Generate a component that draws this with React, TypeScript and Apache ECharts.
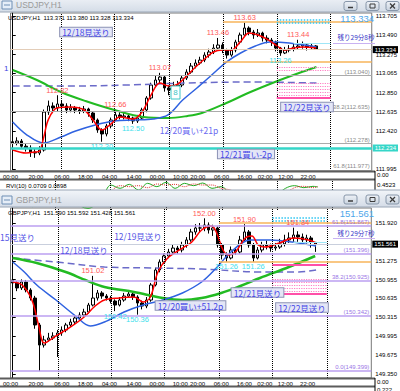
import React, { useEffect, useRef } from "react";
import * as echarts from "echarts";

const UI_FONT = "Liberation Sans, DejaVu Sans, sans-serif";
const JP_FONT = "Noto Sans CJK JP, Noto Sans, sans-serif";

const barSlots = Array.from({ length: 81 }, (_, i) => `H${i}`);

// USDJPY H1 bars: [open, close, low, high]
const usdjpyBars = [
  [112.300,112.286,112.250,112.340],[112.286,112.308,112.260,112.350],[112.308,112.250,112.220,112.330],
  [112.250,112.230,112.190,112.280],[112.230,112.185,112.130,112.260],[112.185,112.174,112.120,112.220],
  [112.174,112.208,112.150,112.250],[112.208,112.632,112.190,112.660],[112.632,112.700,112.600,112.760],
  [112.700,112.677,112.620,112.740],[112.677,112.722,112.640,112.820],[112.722,112.700,112.660,112.760],
  [112.700,112.655,112.620,112.730],[112.655,112.677,112.630,112.720],[112.677,112.655,112.620,112.700],
  [112.655,112.644,112.610,112.690],[112.644,112.666,112.620,112.700],[112.666,112.621,112.580,112.680],
  [112.621,112.543,112.510,112.640],[112.543,112.431,112.400,112.560],[112.431,112.387,112.300,112.450],
  [112.387,112.476,112.360,112.500],[112.476,112.543,112.450,112.570],[112.543,112.599,112.530,112.660],
  [112.599,112.577,112.550,112.630],[112.577,112.588,112.550,112.620],[112.588,112.565,112.530,112.610],
  [112.565,112.532,112.500,112.580],[112.532,112.565,112.510,112.600],[112.565,112.655,112.550,112.680],
  [112.655,112.789,112.630,112.810],[112.789,112.934,112.770,112.960],[112.934,112.990,112.910,113.040],
  [112.990,113.023,112.950,113.070],[113.023,112.901,112.860,113.040],[112.901,112.878,112.820,112.930],
  [112.878,112.923,112.850,112.970],[112.923,112.934,112.890,112.980],[112.934,113.012,112.910,113.040],
  [113.012,113.079,112.990,113.110],[113.079,113.146,113.060,113.180],[113.146,113.180,113.120,113.220],
  [113.180,113.213,113.160,113.250],[113.213,113.269,113.190,113.300],[113.269,113.303,113.240,113.340],
  [113.303,113.347,113.280,113.390],[113.347,113.381,113.320,113.460],[113.381,113.325,113.290,113.410],
  [113.325,113.269,113.230,113.340],[113.269,113.325,113.250,113.360],[113.325,113.414,113.300,113.440],
  [113.414,113.493,113.390,113.520],[113.493,113.571,113.470,113.630],[113.571,113.526,113.490,113.590],
  [113.526,113.493,113.450,113.550],[113.493,113.515,113.470,113.560],[113.515,113.459,113.420,113.530],
  [113.459,113.437,113.400,113.490],[113.437,113.414,113.370,113.460],[113.414,113.347,113.310,113.430],
  [113.347,113.292,113.260,113.360],[113.292,113.325,113.280,113.360],[113.325,113.336,113.300,113.380],
  [113.336,113.359,113.310,113.400],[113.359,113.370,113.330,113.440],[113.370,113.381,113.340,113.420],
  [113.381,113.359,113.320,113.400],[113.359,113.371,113.330,113.400],[113.371,113.334,113.328,113.380],
];

// GBPJPY H1 bars: [open, close, low, high]
const gbpjpyBars = [
  [150.950,150.899,150.850,151.000],[150.899,150.814,150.760,150.930],[150.814,150.916,150.780,150.960],
  [150.916,150.780,150.740,150.950],[150.780,150.643,150.600,150.810],[150.643,150.184,150.120,150.680],
  [150.184,149.843,149.399,150.220],[149.843,149.929,149.800,150.000],[149.929,149.963,149.900,150.050],
  [149.963,149.997,149.930,150.060],[149.997,150.048,149.640,150.100],[150.048,150.099,150.000,150.160],
  [150.099,150.184,150.060,150.220],[150.184,150.235,150.150,150.290],[150.235,150.303,150.200,150.350],
  [150.303,150.354,150.270,150.400],[150.354,150.405,150.320,150.460],[150.405,150.524,150.380,150.560],
  [150.524,150.643,150.500,151.020],[150.643,150.729,150.600,150.780],[150.729,150.677,150.630,150.760],
  [150.677,150.643,150.600,150.710],[150.643,150.592,150.550,150.680],[150.592,150.524,150.420,150.620],
  [150.524,150.609,150.500,150.660],[150.609,150.677,150.580,150.730],[150.677,150.711,150.650,150.780],
  [150.711,150.660,150.610,150.740],[150.660,150.558,150.360,150.690],[150.558,150.507,150.450,150.600],
  [150.507,150.609,150.470,150.660],[150.609,150.865,150.580,150.900],[150.865,151.120,150.840,151.160],
  [151.120,151.256,151.080,151.300],[151.256,151.358,151.220,151.400],[151.358,151.426,151.320,151.480],
  [151.426,151.494,151.380,151.550],[151.494,151.460,151.400,151.530],[151.460,151.546,151.420,151.600],
  [151.546,151.631,151.500,151.680],[151.631,151.767,151.600,151.820],[151.767,151.835,151.720,151.900],
  [151.835,151.835,151.760,151.920],[151.835,151.886,151.780,152.000],[151.886,151.801,151.740,151.930],
  [151.801,151.835,151.700,151.890],[151.835,151.546,151.500,151.860],[151.546,151.375,151.300,151.580],
  [151.375,151.324,151.260,151.420],[151.324,151.460,151.300,151.520],[151.460,151.426,151.380,151.500],
  [151.426,151.631,151.400,151.700],[151.631,151.767,151.600,151.900],[151.767,151.546,151.500,151.800],
  [151.546,151.324,151.260,151.580],[151.324,151.460,151.300,151.510],[151.460,151.546,151.420,151.600],
  [151.546,151.529,151.470,151.620],[151.529,151.494,151.430,151.570],[151.494,151.511,151.450,151.580],
  [151.511,151.563,151.480,151.650],[151.563,151.631,151.520,151.720],[151.631,151.665,151.580,151.760],
  [151.665,151.716,151.600,151.840],[151.716,151.682,151.600,151.780],[151.682,151.631,151.550,151.740],
  [151.631,151.665,151.570,151.720],[151.665,151.590,151.500,151.700],[151.590,151.561,151.428,151.592],
];

// moving averages: [bar slot, price]
const usdjpyFastMA = [[0,112.208],[3,112.174],[5,112.185],[6,112.195],[7,112.36],[8,112.55],[10,112.68],[13,112.688],[16,112.655],[18,112.543],[20,112.431],[22,112.498],[24,112.577],[27,112.554],[29,112.632],[31,112.822],[33,112.956],[35,112.923],[37,112.945],[39,113.035],[41,113.135],[43,113.225],[45,113.303],[47,113.325],[49,113.325],[51,113.414],[53,113.515],[55,113.493],[57,113.448],[59,113.381],[61,113.325],[63,113.347],[65,113.359],[68,113.347]];
const usdjpyMidMA = [[0,112.521],[3.2,112.375],[6.9,112.286],[10.8,112.353],[14.1,112.42],[18.5,112.487],[22.8,112.532],[27.2,112.543],[31.5,112.554],[34.8,112.599],[38.1,112.766],[41.3,112.901],[44.6,113.046],[47.9,113.191],[51.1,113.292],[54.4,113.37],[57.7,113.414],[62,113.403],[68.1,113.359]];
const usdjpySlowMA = [[0,113.102],[5.4,112.99],[10.8,112.856],[16.3,112.755],[22.8,112.655],[29.3,112.577],[34.8,112.565],[39.2,112.588],[42.4,112.621],[47.9,112.733],[53.3,112.856],[58.8,112.968],[64.2,113.068],[68.1,113.135]];
const usdjpyLongMA = [[0,112.923],[13,112.923],[25.5,112.934],[38.6,112.956],[53.8,112.968],[68.1,112.956]];

const gbpjpyFastMA = [[0,150.916],[2.1,150.865],[4.3,150.609],[5.8,150.184],[7.1,149.877],[9.7,149.997],[13,150.15],[16.3,150.337],[18.5,150.507],[20.6,150.609],[23.9,150.643],[27.2,150.66],[29.3,150.575],[30.9,150.66],[32.6,151.086],[34.8,151.324],[38.1,151.494],[40.2,151.597],[42.4,151.801],[44.6,151.869],[45.7,151.767],[47.2,151.46],[48.5,151.375],[50,151.426],[52.2,151.665],[53.7,151.699],[55.1,151.546],[56.6,151.511],[59.9,151.58],[63.1,151.665],[66.4,151.631],[68.1,151.58]];
const gbpjpyMidMA = [[0,151.256],[2.6,151.086],[5.4,150.865],[9.7,150.609],[14.1,150.337],[17.4,150.167],[20.6,150.235],[25,150.405],[29.3,150.524],[33.7,150.609],[38.1,150.729],[42.4,150.916],[45.7,151.154],[49,151.426],[53.3,151.631],[57.7,151.631],[64.2,151.58],[68.1,151.529]];
const gbpjpySlowMA = [[0,151.324],[5.4,151.239],[11.9,151.086],[16.3,150.95],[20.6,150.831],[27.2,150.746],[33.7,150.643],[38.1,150.609],[42.4,150.643],[46.8,150.729],[51.1,150.848],[55.5,150.984],[62,151.171],[67.9,151.358]];
const gbpjpyLongMA = [[0,151.324],[9.7,151.256],[20.6,151.171],[31.5,151.154],[42.4,151.137],[55.5,151.086],[64.2,151.086],[68.1,151.12]];

// RVI(10) subwindow of USDJPY: [bar slot, value]
const usdjpyRviMain = [[0,-0.3],[3,-0.2],[6,-0.35],[9,0.0],[12,-0.1],[15,-0.25],[18,-0.4],[21,-0.1],[23,0.3],[25,0.2],[27,0.32],[29,0.15],[31,0.35],[33,0.25],[35,0.38],[37,0.2],[39,0.35],[41,0.28],[43,0.36],[45,0.2],[47,0.25],[49,0.05],[52,-0.1],[55,-0.2],[58,-0.1],[61,0.2],[63,0.28],[65,0.22],[67,0.26],[68,0.24]];
const usdjpyRviSignal = [[0,-0.25],[3,-0.25],[6,-0.3],[9,-0.1],[12,-0.05],[15,-0.2],[18,-0.35],[21,-0.25],[23,0.1],[25,0.28],[27,0.25],[29,0.28],[31,0.22],[33,0.33],[35,0.3],[37,0.32],[39,0.25],[41,0.33],[43,0.3],[45,0.3],[47,0.2],[49,0.15],[52,-0.02],[55,-0.15],[58,-0.15],[61,0.05],[63,0.22],[65,0.26],[67,0.22],[68,0.25]];

const usdjpyPriceTicks = [113.705, 113.49, 113.275, 113.065, 112.85, 112.635, 112.42, 111.995];
const gbpjpyPriceTicks = [151.92, 151.275, 150.955, 150.635, 150.315, 149.995, 149.675, 149.35];

const timeTickSlots = [-0.5, 5.2, 11.0, 16.3, 21.7, 27.2, 32.4, 37.6, 41.5, 46.8, 52.0, 56.6, 61.2, 66.2];
const timeTickLabels = ["00:00","20:00","06:00","18:00","04:00","14:00","00:00","10:00","20:00","06:00","16:00","02:00","12:00","22:00"];

const usdjpyDaySeps = [10.8, 22.8, 35.0, 47.2, 59.2, 71.3];
const gbpjpyDaySeps = [10.2, 22.2, 34.1, 46.3, 58.3, 70.5];

const usdjpyHighMarks = [[10,112.82],[23,112.66],[33,113.07],[46,113.46],[52,113.63],[64,113.44]];
const usdjpyLowMarks = [[20,112.30],[27,112.50],[60,113.26]];
const gbpjpyHighMarks = [[18,151.02],[43,152.00],[52,151.90],[64,151.84]];
const gbpjpyLowMarks = [[23,150.42],[28,150.36],[48,151.26],[54,151.26]];

const usdjpyFibLevels = [113.040, 112.635, 112.278, 111.977];
const usdjpyFibNames = ["", "38.2", "", "61.8"];
const gbpjpyFibLevels = [151.867, 151.396, 150.925, 150.342, 149.399];
const gbpjpyFibNames = ["61.8", "", "38.2", "", "0.0"];

const usdjpyBid = 113.334;
const usdjpySupport = 112.234;
const gbpjpyBid = 151.561;

const usdjpyOrange = [113.638, 113.191];
const usdjpyCyanDots = [113.660, 113.627];
const usdjpyPinkDots = [113.135, 113.102, 112.956, 112.923, 112.889, 112.856, 112.822];
const usdjpyPinkSolid = [112.789];
const usdjpyCyanSolid = [113.403];
const gbpjpyOrange = [151.920, 151.256];
const gbpjpyCyanDots = [152.005, 151.954];
const gbpjpyPinkDots = [150.967, 150.916, 150.865, 150.814, 150.763];
const gbpjpyPinkSolid = [151.205, 150.712];
const gbpjpyCyanSolid = [151.597];

// [orange start, zone start, zone end, cyan start]
const usdjpyObjSlots = [47.2, 59.2, 71.3, 63.0];
const gbpjpyObjSlots = [46.3, 58.3, 70.5, 63.0];

function buildOption() {
  const timeMap: Record<string, string> = {};
  timeTickSlots.forEach((s, k) => { timeMap[s.toFixed(2)] = timeTickLabels[k]; });

  const priceAxis = (grid: number, min: number, max: number, ticks: number[]) => ({
    type: "value", gridIndex: grid, position: "right", min, max,
    axisLine: { show: true, lineStyle: { color: "#000", width: 1 } },
    axisTick: { show: true, customValues: ticks, length: 3, lineStyle: { color: "#000" } },
    axisLabel: { customValues: ticks, formatter: (v: number) => Number(v).toFixed(3), fontSize: 6, color: "#000", margin: 4, fontFamily: UI_FONT },
    splitLine: { show: false },
  });
  const timeAxis = (grid: number) => ({
    type: "value", gridIndex: grid, position: "bottom", min: -0.5, max: 80.5,
    axisLine: { show: false }, axisTick: { show: false }, splitLine: { show: false },
    axisLabel: { customValues: timeTickSlots, formatter: (v: number) => timeMap[Number(v).toFixed(2)] ?? "", fontSize: 6, color: "#000", margin: 3, fontFamily: UI_FONT, showMinLabel: true, showMaxLabel: true },
  });

  const fullLine = (y: number, color: string, width: number, text: string, textColor: string) => ({
    yAxis: y, lineStyle: { color, width, type: "solid" },
    label: { show: true, position: "insideEndTop", formatter: text, color: textColor, fontSize: 6, fontFamily: UI_FONT, distance: [2, 1] },
  });
  const priceBox = (y: number, lineColor: string, boxColor: string, width: number) => ({
    yAxis: y, lineStyle: { color: lineColor, width, type: "solid" },
    label: { show: true, position: "end", formatter: y.toFixed(3), color: "#fff", backgroundColor: boxColor, padding: [1, 2, 0, 2], fontSize: 6, fontFamily: UI_FONT, distance: 1 },
  });
  const seg = (x1: number, x2: number, y: number, color: string, width: number, type: string) => [
    { coord: [x1, y], lineStyle: { color, width, type } },
    { coord: [x2, y], lineStyle: { color, width, type } },
  ];

  const marks = (highs: number[][], lows: number[][]) => ({
    symbol: "circle", symbolSize: 0, silent: true,
    data: [
      ...highs.map(([s, p]) => ({ coord: [s, p], label: { show: true, position: "top", distance: 1, formatter: p.toFixed(2), color: "#ff5a5a", fontSize: 7.5, fontFamily: UI_FONT } })),
      ...lows.map(([s, p]) => ({ coord: [s, p], label: { show: true, position: "bottom", distance: 1, formatter: p.toFixed(2), color: "#3fe0ec", fontSize: 7.5, fontFamily: UI_FONT } })),
    ],
  });

  const candles = (bars: number[][], xi: number, yi: number, mp: any, ml: any[]) => ({
    type: "candlestick", xAxisIndex: xi, yAxisIndex: yi, data: bars, barWidth: 3, z: 3,
    itemStyle: { color: "#ffffff", color0: "#000000", borderColor: "#000000", borderColor0: "#000000", borderWidth: 1 },
    markPoint: mp,
    markLine: { silent: true, symbol: ["none", "none"], data: ml },
  });
  const maLine = (data: number[][], xi: number, yi: number, color: string, width: number, type: any = "solid") => ({
    type: "line", xAxisIndex: xi, yAxisIndex: yi, data, smooth: 0.35, showSymbol: false, symbol: "none", silent: true, z: 4,
    lineStyle: { color, width, type },
  });
  const seps = (xi: number, yi: number, list: number[]) => ({
    type: "line", xAxisIndex: xi, yAxisIndex: yi, data: [], silent: true, z: 1,
    markLine: { silent: true, symbol: ["none", "none"], label: { show: false },
      data: list.map((v) => ({ xAxis: v, lineStyle: { color: "#000", type: "dotted", width: 1 } })) },
  });
  const objects = (xi: number, yi: number, data: any[]) => ({
    type: "line", xAxisIndex: xi, yAxisIndex: yi, data: [], silent: true, z: 5,
    markLine: { silent: true, symbol: ["none", "none"], label: { show: false }, data },
  });

  const usdObj = [
    ...usdjpyOrange.map((y) => seg(usdjpyObjSlots[0], 80.5, y, "#f7b55a", 1.5, "solid")),
    ...usdjpyCyanDots.map((y) => seg(usdjpyObjSlots[1], usdjpyObjSlots[2], y, "#2ec6f2", 1.5, "dotted")),
    ...usdjpyPinkDots.map((y) => seg(usdjpyObjSlots[1], usdjpyObjSlots[2], y, "#ff7fc4", 1.2, "dotted")),
    ...usdjpyPinkSolid.map((y) => seg(usdjpyObjSlots[1], usdjpyObjSlots[2], y, "#ff4fa8", 2, "solid")),
    ...usdjpyCyanSolid.map((y) => seg(usdjpyObjSlots[3], usdjpyObjSlots[2], y, "#9fe6f7", 1.2, "solid")),
  ];
  const gbpObj = [
    ...gbpjpyOrange.map((y) => seg(gbpjpyObjSlots[0], 80.5, y, "#f7b55a", 1.5, "solid")),
    ...gbpjpyCyanDots.map((y) => seg(gbpjpyObjSlots[1], gbpjpyObjSlots[2], y, "#2ec6f2", 1.5, "dotted")),
    ...gbpjpyPinkDots.map((y) => seg(gbpjpyObjSlots[1], gbpjpyObjSlots[2], y, "#ff7fc4", 1.2, "dotted")),
    ...gbpjpyPinkSolid.map((y) => seg(gbpjpyObjSlots[1], gbpjpyObjSlots[2], y, "#ff4fa8", 2, "solid")),
    ...gbpjpyCyanSolid.map((y) => seg(gbpjpyObjSlots[3], gbpjpyObjSlots[2], y, "#9fe6f7", 1.2, "solid")),
  ];

  const usdLines = [
    ...usdjpyFibLevels.map((v, k) => fullLine(v, "#ababab", 1, `${usdjpyFibNames[k]}(${v.toFixed(3)})`, "#8a8a8a")),
    priceBox(usdjpySupport, "#35d6c8", "#35d6c8", 2.5),
    priceBox(usdjpyBid, "#e3cdb8", "#000000", 1),
  ];
  const gbpLines = [
    ...gbpjpyFibLevels.map((v, k) => fullLine(v, "#bb9ff0", 1.5, `${gbpjpyFibNames[k]}(${v.toFixed(3)})`, "#9a76e6")),
    priceBox(gbpjpyBid, "#c9cfdd", "#000000", 1),
  ];

  // ---------- window chrome (graphic) ----------
  const Z = 100;
  const barGrad = () => new echarts.graphic.LinearGradient(0, 0, 0, 1, [
    { offset: 0, color: "#f2f5f9" }, { offset: 1, color: "#d4dce7" },
  ]);
  const btnGrad = () => new echarts.graphic.LinearGradient(0, 0, 0, 1, [
    { offset: 0, color: "#eef2f7" }, { offset: 1, color: "#c9d3df" },
  ]);
  const buttons = (y: number) => {
    const xs = [344, 366, 386];
    const out: any[] = [];
    xs.forEach((x, k) => {
      out.push({ type: "rect", z: Z + 1, shape: { x, y, width: 13, height: 9, r: 2 }, style: { fill: btnGrad(), stroke: "#8796a9", lineWidth: 1 } });
      if (k === 0) out.push({ type: "line", z: Z + 2, shape: { x1: x + 4, y1: y + 6, x2: x + 9, y2: y + 6 }, style: { stroke: "#3c3c3c", lineWidth: 1.5 } });
      if (k === 1) out.push({ type: "rect", z: Z + 2, shape: { x: x + 4, y: y + 2.5, width: 5, height: 4 }, style: { fill: "none", stroke: "#3c3c3c", lineWidth: 1 } });
      if (k === 2) {
        out.push({ type: "line", z: Z + 2, shape: { x1: x + 4, y1: y + 2, x2: x + 9, y2: y + 7 }, style: { stroke: "#3c3c3c", lineWidth: 1.2 } });
        out.push({ type: "line", z: Z + 2, shape: { x1: x + 9, y1: y + 2, x2: x + 4, y2: y + 7 }, style: { stroke: "#3c3c3c", lineWidth: 1.2 } });
      }
    });
    return out;
  };
  const titleBar = (y: number, h: number, textY: number, name: string, btnY: number) => [
    { type: "rect", z: Z, shape: { x: -1, y, width: 402, height: h }, style: { fill: barGrad(), stroke: "#9aa6b6", lineWidth: 1 } },
    { type: "rect", z: Z + 1, shape: { x: 2, y: textY - 4, width: 10, height: 8 }, style: { fill: "#e6eef8", stroke: "#6f8fb5", lineWidth: 1 } },
    { type: "line", z: Z + 2, shape: { x1: 4, y1: textY, x2: 10, y2: textY }, style: { stroke: "#6f8fb5", lineWidth: 1 } },
    { type: "text", z: Z + 1, x: 16, y: textY, style: { text: name, fill: "#9a9a9a", fontSize: 8.5, fontFamily: UI_FONT, verticalAlign: "middle" } },
    ...buttons(btnY),
  ];
  const txt = (x: number, y: number, text: string, fill: string, fontSize: number, align = "left", font = UI_FONT) => ({
    type: "text", z: Z, x, y, style: { text, fill, fontSize, fontFamily: font, align, verticalAlign: "middle" },
  });
  const note = (x: number, y: number, text: string, boxed: boolean, fill = "#4646e6", align = "center") => ({
    type: "text", z: Z, x, y,
    style: boxed
      ? { text, fill, fontSize: 8.5, fontFamily: JP_FONT, align, verticalAlign: "middle", backgroundColor: "#e4e6f6", borderColor: "#8d93b5", borderWidth: 1, padding: [0, 2, 0, 2] }
      : { text, fill, fontSize: 8.5, fontFamily: JP_FONT, align, verticalAlign: "middle" },
  });
  const hl = (x1: number, x2: number, y: number, stroke: string, lineWidth: number) => ({
    type: "line", z: Z, shape: { x1, y1: y, x2, y2: y }, style: { stroke, lineWidth },
  });
  const vl = (x: number, y1: number, y2: number, stroke: string, lineWidth: number) => ({
    type: "line", z: Z, shape: { x1: x, y1, x2: x, y2 }, style: { stroke, lineWidth },
  });

  const graphics: any[] = [
    // top window overlays
    txt(8, 17.5, "USDJPY,H1  113.371 113.380 113.328 113.334", "#000", 6),
    txt(374, 18, "113.334", "#4ea6ea", 9.5, "right"),
    txt(356, 37, "残り29分8秒", "#3838c8", 6.5, "center", JP_FONT),
    hl(333, 375, 43.5, "#c9b2f2", 1),
    note(86, 32, "12/18見送り", true),
    note(189, 130, "12/20買い+21p", false, "#6a6af0"),
    note(246, 154, "12/21買い-2p", true),
    note(307, 107, "12/22見送り", true),
    txt(4, 68, "1", "#4040e0", 8),
    { type: "rect", z: Z, shape: { x: 171, y: 86, width: 9, height: 13 }, style: { fill: "#ffffff", stroke: "#3fc6c6", lineWidth: 1 } },
    txt(175.5, 92.5, "8", "#3fc6c6", 8, "center"),
    hl(0, 375, 171.5, "#5c5c5c", 2),
    hl(0, 375, 179.5, "#5c5c5c", 2),
    vl(375, 171, 191, "#000", 1),
    txt(377, 174.5, "0.00", "#000", 6),
    txt(377, 185, "0.4523", "#000", 6),
    txt(6, 186, "RVI(10) 0.0709 0.0898", "#000", 6),
    // second window
    ...titleBar(190, 17, 200, "GBPJPY,H1", 195),
    ...titleBar(-5, 17, 5, "USDJPY,H1", 1.5),
    txt(8, 213, "GBPJPY,H1  151.590 151.592 151.428 151.561", "#000", 6),
    txt(374, 213, "151.561", "#4ea6ea", 9.5, "right"),
    txt(356, 233, "残り29分7秒", "#3838c8", 6.5, "center", JP_FONT),
    hl(333, 375, 238.5, "#c9b2f2", 1),
    note(0, 237, "15見送り", false, "#5656e6", "left"),
    note(138, 236, "12/19見送り", false, "#5656e6"),
    note(84, 250, "12/18見送り", false, "#5656e6"),
    note(190.5, 305.5, "12/20買い+51.2p", true),
    note(257.5, 292.5, "12/21見送り", true),
    note(302, 307.5, "12/22見送り", true),
    hl(0, 375, 378.5, "#5c5c5c", 2),
    hl(0, 375, 386.5, "#5c5c5c", 2),
    vl(375, 378, 391, "#000", 1),
    txt(377, 382, "0.00", "#000", 6),
    txt(377, 389.5, "0.222", "#000", 6),
  ];

  return {
    animation: false,
    backgroundColor: "#ffffff",
    textStyle: { fontFamily: UI_FONT },
    grid: [
      { left: 3, top: 13, width: 372, height: 158, show: true, borderColor: "#777", borderWidth: 1, backgroundColor: "#fff" },
      { left: 3, top: 180, width: 372, height: 30, show: false },
      { left: 3, top: 208, width: 372, height: 170, show: true, borderColor: "#777", borderWidth: 1, backgroundColor: "#fff" },
    ],
    xAxis: [
      { type: "category", gridIndex: 0, position: "top", data: barSlots, boundaryGap: true, show: false },
      timeAxis(0),
      { type: "value", gridIndex: 1, min: -0.5, max: 80.5, show: false },
      { type: "category", gridIndex: 2, position: "top", data: barSlots, boundaryGap: true, show: false },
      timeAxis(2),
    ],
    yAxis: [
      priceAxis(0, 111.973, 113.739, usdjpyPriceTicks),
      { type: "value", gridIndex: 1, min: -0.45, max: 0.45, show: false },
      priceAxis(2, 149.282, 152.175, gbpjpyPriceTicks),
    ],
    series: [
      seps(1, 0, usdjpyDaySeps),
      candles(usdjpyBars, 0, 0, marks(usdjpyHighMarks, usdjpyLowMarks), usdLines),
      maLine(usdjpyLongMA, 1, 0, "#6b6bc9", 1.5, [7, 4]),
      maLine(usdjpySlowMA, 1, 0, "#22bb22", 2),
      maLine(usdjpyMidMA, 1, 0, "#2f62e0", 1.5),
      maLine(usdjpyFastMA, 1, 0, "#ff0000", 1.5),
      objects(1, 0, usdObj),
      seps(2, 1, usdjpyDaySeps),
      maLine(usdjpyRviMain, 2, 1, "#22aa22", 1),
      maLine(usdjpyRviSignal, 2, 1, "#e03030", 1, "dotted"),
      seps(4, 2, gbpjpyDaySeps),
      candles(gbpjpyBars, 3, 2, marks(gbpjpyHighMarks, gbpjpyLowMarks), gbpLines),
      maLine(gbpjpyLongMA, 4, 2, "#6b6bc9", 1.5, [7, 4]),
      maLine(gbpjpySlowMA, 4, 2, "#22bb22", 2.5),
      maLine(gbpjpyMidMA, 4, 2, "#2f62e0", 1.5),
      maLine(gbpjpyFastMA, 4, 2, "#ff0000", 1.5),
      objects(4, 2, gbpObj),
    ],
    graphic: { elements: graphics },
  };
}

export default function App() {
  const ref = useRef<HTMLDivElement>(null);
  useEffect(() => {
    if (!ref.current) return;
    const chart = echarts.init(ref.current, undefined, { renderer: "svg" });
    chart.setOption(buildOption() as any);
    return () => chart.dispose();
  }, []);
  return <div ref={ref} style={{ position: "fixed", left: 0, top: 0, width: 400, height: 391, background: "#fff" }} />;
}
